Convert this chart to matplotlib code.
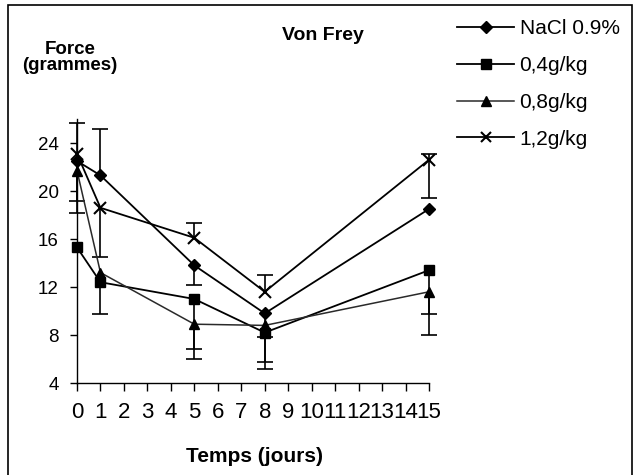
import numpy as np
import matplotlib
matplotlib.use("Agg")
import matplotlib.pyplot as plt
from matplotlib.lines import Line2D
from matplotlib.patches import Rectangle

days = [0, 1, 5, 8, 15]
labels = ["NaCl 0.9%", "0,4g/kg", "0,8g/kg", "1,2g/kg"]
nacl = [22.5, 21.3, 13.8, 9.8, 18.5]
g04 = [15.3, 12.4, 11.0, 8.2, 13.4]
g08 = [21.7, 13.2, 8.9, 8.8, 11.6]
g12 = [23.1, 18.6, 16.1, 11.6, 22.6]

# one-sided error bars (0 = not shown)
nacl_up = [0, 3.9, 0, 0, 0]
nacl_lo = [3.3, 0, 1.6, 2.0, 0]
g04_up = [0, 0, 0, 0, 0]
g04_lo = [0, 2.65, 5.0, 3.0, 3.65]
g08_up = [0, 0, 0, 0, 0]
g08_lo = [0, 0, 2.1, 3.05, 3.6]
g12_up = [2.6, 0, 1.2, 1.4, 0.5]
g12_lo = [4.9, 4.1, 0, 0, 3.2]

yticks = [4, 8, 12, 16, 20, 24]
xticks = list(range(0, 16))

plt.rcParams['font.family'] = ['Liberation Sans', 'DejaVu Sans']

fig = plt.figure(figsize=(6.33, 4.75), dpi=100)
ax = fig.add_axes([77/633, 1-383/475, (429-77)/633, (383-119)/475])

series = [
    (nacl, nacl_lo, nacl_up, 'D', 6.5, 'black', 1.3),
    (g04, g04_lo, g04_up, 's', 7.0, 'black', 1.3),
    (g08, g08_lo, g08_up, '^', 7.5, '#2a2a2a', 1.1),
    (g12, g12_lo, g12_up, 'x', 8.0, 'black', 1.3),
]

x = np.array(days, dtype=float)
handles = []
for (vals, lo, up, mk, ms, col, lw), lab in zip(series, labels):
    y = np.array(vals, dtype=float)
    lo = np.array(lo, dtype=float)
    up = np.array(up, dtype=float)
    mask = (lo > 0) | (up > 0)
    if mask.any():
        eb = ax.errorbar(x[mask], y[mask], yerr=[lo[mask], up[mask]], fmt='none',
                         ecolor='black', elinewidth=1.2, capsize=6, capthick=1.2,
                         zorder=2)
        ym = y[mask]
        for cl in eb[1]:
            cl.set_clip_on(False)
            yd = np.array(cl.get_ydata(), dtype=float)
            bad = np.isclose(yd, ym)
            yd[bad] = np.nan
            cl.set_ydata(yd)
        for bl in eb[2]:
            bl.set_clip_on(False)
    mew = 1.5 if mk == 'x' else 1.0
    ax.plot(x, y, color=col, lw=lw, marker=mk, ms=ms,
            mfc='black', mec='black', mew=mew, zorder=3, clip_on=False)
    handles.append(Line2D([0], [0], color=col, lw=lw, marker=mk, ms=ms - 0.5,
                          mfc='black', mec='black', mew=mew))

ax.set_xlim(0, 15)
ax.set_ylim(4, 26)
ax.set_xticks(xticks)
ax.set_xticklabels([str(t) for t in xticks],
                   fontfamily=['Liberation Sans Narrow', 'Liberation Sans'],
                   fontsize=16)
ax.set_yticks(yticks)
ax.set_yticklabels([str(t) for t in yticks], fontsize=13.5)
ax.spines['top'].set_visible(False)
ax.spines['right'].set_visible(False)
ax.spines['left'].set_linewidth(1.0)
ax.spines['bottom'].set_linewidth(1.0)
ax.tick_params(axis='x', direction='out', length=6, width=1, pad=8, colors='black')
ax.tick_params(axis='y', direction='out', length=5, width=1, pad=8, colors='black')

fig.text(70/633, 1-49/475, "Force", ha='center', va='center',
         fontsize=13.5, fontweight='bold')
fig.text(70/633, 1-66/475, "(grammes)", ha='center', va='center',
         fontsize=13.5, fontweight='bold')
fig.text(323/633, 1-35/475, "Von Frey", ha='center', va='center',
         fontsize=14, fontweight='bold')
fig.text(255/633, 1-456/475, "Temps (jours)", ha='center', va='center',
         fontsize=15, fontweight='bold')

fig.legend(handles, labels, loc='upper left', bbox_to_anchor=(457/633, 1-19/475),
           frameon=False, fontsize=15, handlelength=2.75, handletextpad=0.25,
           labelspacing=0.86, borderpad=0, borderaxespad=0)

fig.patches.append(Rectangle((8/633, -0.1), (632-8)/633, 1.1-5/475,
                             transform=fig.transFigure, fill=False,
                             edgecolor='black', lw=1.2, figure=fig))

fig.savefig("out.png", dpi=100)
